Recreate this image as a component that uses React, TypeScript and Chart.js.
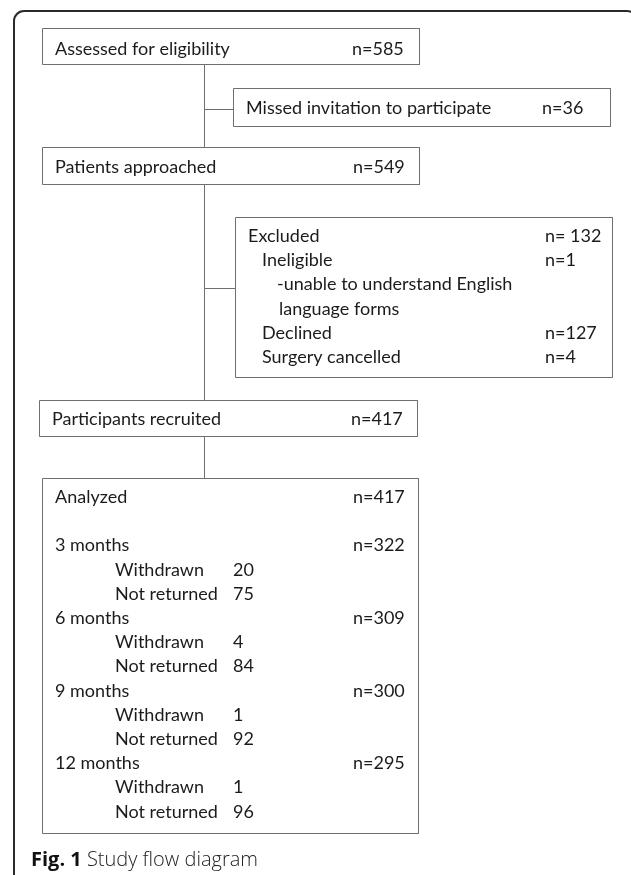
import React, { useEffect, useRef } from "react";
import { Chart, registerables } from "chart.js";

Chart.register(...registerables);

// ---- Data (text and counts) ----
const stageLabels = ["Assessed for eligibility", "Missed invitation to participate", "Patients approached", "Participants recruited"];
const stageCounts = ["n=585", "n=36", "n=549", "n=417"];

const excludedLabels = ["Excluded", "Ineligible", "-unable to understand English", "language forms", "Declined", "Surgery cancelled"];
const excludedCounts = ["n= 132", "n=1", "", "", "n=127", "n=4"];

const analyzedLabel = "Analyzed";
const analyzedCount = "n=417";
const followUpLabels = ["3 months", "6 months", "9 months", "12 months"];
const followUpCounts = ["n=322", "n=309", "n=300", "n=295"];
const withdrawnCounts = ["20", "4", "1", "1"];
const notReturnedCounts = ["75", "84", "92", "96"];
const subLabels = ["Withdrawn", "Not returned"];

const captionBold = "Fig. 1";
const captionText = "Study flow diagram";

// ---- Layout (diagram units, mapped through the chart's scales) ----
const W = 631;
const H = 875;
type Rect = { l: number; t: number; r: number; b: number };
const stageBoxes: Rect[] = [
  { l: 42, t: 28, r: 419, b: 64 },
  { l: 233, t: 88, r: 610, b: 126 },
  { l: 42, t: 147, r: 419, b: 184 },
  { l: 39, t: 400, r: 417, b: 436 },
];
const stageTextX = [55, 246, 55, 52];
const stageCountX = [352, 542, 353, 351];
const stageBaseline = [55, 114, 173, 425];
const excludedBox: Rect = { l: 235, t: 217, r: 612, b: 377 };
const excludedX = [248, 262, 277, 279, 262, 262];
const excludedCountX = 545;
const excludedBaseline0 = 242;
const analyzedBox: Rect = { l: 42, t: 478, r: 418, b: 833 };
const lineStep = 24.2;
const spineX = 204;

const BODY_FONT = "18px Lato, 'Open Sans', sans-serif";
const TEXT = "#1b1b1b";
const BOX = "#6f6f6f";

function rectPts(r: Rect) {
  const l = r.l + 0.5, t = r.t + 0.5, rr = r.r + 0.5, b = r.b + 0.5;
  return [
    { x: l, y: t }, { x: rr, y: t }, { x: rr, y: b }, { x: l, y: b }, { x: l, y: t },
  ];
}

export default function App() {
  const ref = useRef<HTMLCanvasElement | null>(null);
  useEffect(() => {
    if (!ref.current) return;
    const lineDs = (pts: { x: number; y: number }[]) => ({
      data: pts,
      showLine: true,
      borderColor: BOX,
      borderWidth: 1,
      pointRadius: 0,
      tension: 0,
      fill: false,
      borderJoinStyle: "miter" as const,
      clip: false as const,
    });
    const sx = spineX + 0.5;
    const datasets = [
      ...stageBoxes.map((b) => lineDs(rectPts(b))),
      lineDs(rectPts(excludedBox)),
      lineDs(rectPts(analyzedBox)),
      lineDs([{ x: sx, y: stageBoxes[0].b }, { x: sx, y: stageBoxes[2].t }]),
      lineDs([{ x: sx, y: stageBoxes[2].b }, { x: sx, y: stageBoxes[3].t }]),
      lineDs([{ x: sx, y: stageBoxes[3].b }, { x: sx, y: analyzedBox.t }]),
      lineDs([{ x: spineX, y: 109.5 }, { x: stageBoxes[1].l, y: 109.5 }]),
      lineDs([{ x: spineX, y: 288.5 }, { x: excludedBox.l, y: 288.5 }]),
    ];

    const textPlugin = {
      id: "flowText",
      beforeDatasetsDraw(chart: any) {
        const { ctx, scales } = chart;
        const px = (v: number) => scales.x.getPixelForValue(v);
        const py = (v: number) => scales.y.getPixelForValue(v);
        ctx.save();
        ctx.fillStyle = "#ffffff";
        ctx.fillRect(0, 0, chart.width, chart.height);
        // outer frame
        ctx.strokeStyle = "#2a2a2a";
        ctx.lineWidth = 2;
        ctx.beginPath();
        (ctx as any).roundRect(px(14), py(11), px(637) - px(14), py(884) - py(11), 10);
        ctx.stroke();
        ctx.restore();
      },
      afterDatasetsDraw(chart: any) {
        const { ctx, scales } = chart;
        const px = (v: number) => scales.x.getPixelForValue(v);
        const py = (v: number) => scales.y.getPixelForValue(v);
        ctx.save();
        ctx.fillStyle = TEXT;
        ctx.textBaseline = "alphabetic";
        ctx.textAlign = "left";
        ctx.font = BODY_FONT;
        stageLabels.forEach((s, i) => {
          ctx.fillText(s, px(stageTextX[i]), py(stageBaseline[i]));
          ctx.fillText(stageCounts[i], px(stageCountX[i]), py(stageBaseline[i]));
        });
        excludedLabels.forEach((s, i) => {
          const y = py(excludedBaseline0 + i * lineStep);
          ctx.fillText(s, px(excludedX[i]), y);
          if (excludedCounts[i]) ctx.fillText(excludedCounts[i], px(excludedCountX), y);
        });
        const y0 = 503;
        ctx.fillText(analyzedLabel, px(55), py(y0));
        ctx.fillText(analyzedCount, px(353), py(y0));
        followUpLabels.forEach((s, i) => {
          const base = y0 + lineStep * (2 + i * 3);
          ctx.fillText(s, px(55), py(base));
          ctx.fillText(followUpCounts[i], px(353), py(base));
          ctx.fillText(subLabels[0], px(115), py(base + lineStep));
          ctx.fillText(withdrawnCounts[i], px(233), py(base + lineStep));
          ctx.fillText(subLabels[1], px(115), py(base + 2 * lineStep));
          ctx.fillText(notReturnedCounts[i], px(233), py(base + 2 * lineStep));
        });
        // caption
        ctx.fillStyle = "#111";
        ctx.font = "bold 20px 'Open Sans', sans-serif";
        ctx.fillText(captionBold, px(31), py(866));
        const bw = ctx.measureText(captionBold + " ").width;
        ctx.font = "300 20px 'Open Sans', sans-serif";
        ctx.fillStyle = "#222";
        ctx.fillText(captionText, px(31) + bw, py(866));
        ctx.restore();
      },
    };

    const chart = new Chart(ref.current, {
      type: "scatter",
      data: { datasets },
      options: {
        animation: false,
        responsive: false,
        events: [],
        layout: { padding: 0 },
        plugins: { legend: { display: false }, tooltip: { enabled: false } },
        scales: {
          x: { type: "linear", min: 0, max: W, display: false },
          y: { type: "linear", min: 0, max: H, reverse: true, display: false },
        },
      },
      plugins: [textPlugin],
    });
    return () => chart.destroy();
  }, []);

  return (
    <div style={{ position: "absolute", left: 0, top: 0, width: W, height: H, background: "#fff" }}>
      <canvas ref={ref} width={W} height={H} style={{ width: W, height: H, display: "block" }} />
    </div>
  );
}
